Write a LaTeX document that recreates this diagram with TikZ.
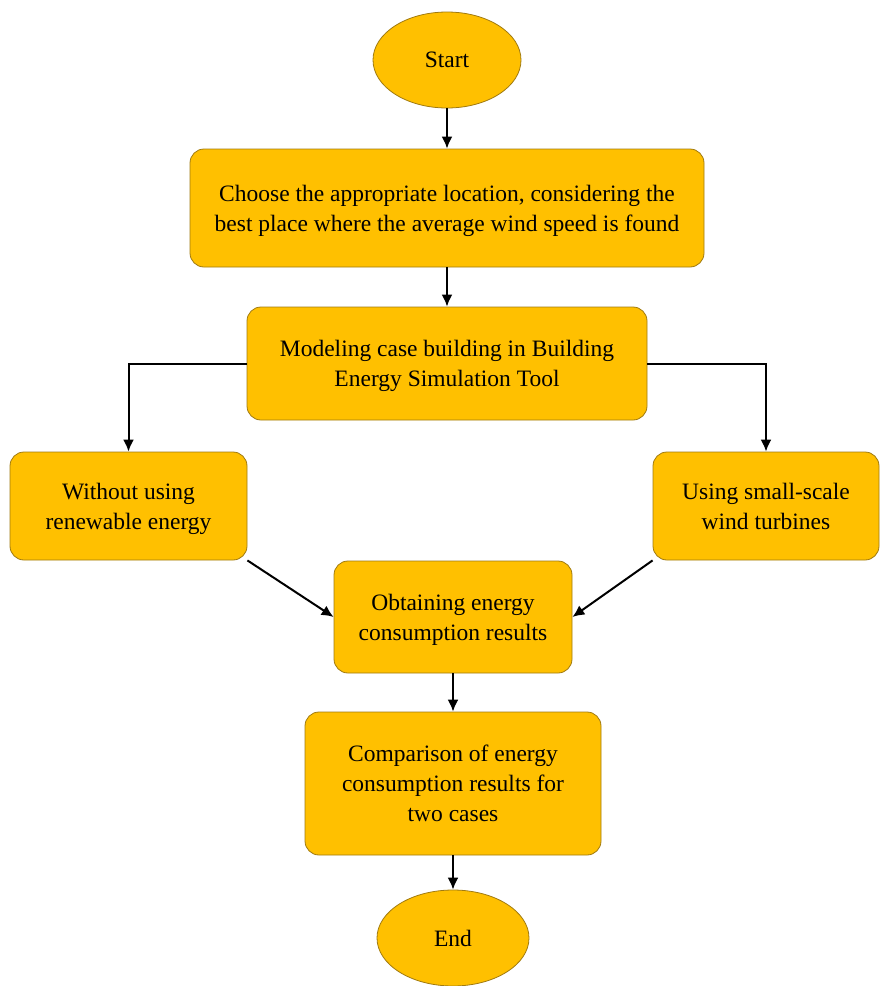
\documentclass[tikz,border=0pt]{standalone}
\usepackage{fontspec}
\setmainfont{Liberation Serif}
\usetikzlibrary{shapes.geometric,arrows.meta}

\definecolor{boxgold}{HTML}{FFC000}
\definecolor{boxedge}{HTML}{A07A10}

\tikzset{
	stepbox/.style={draw=boxedge, fill=boxgold, line width=0.8pt, rounded corners=14pt,
		align=center, inner sep=0pt, text depth=0pt, font=\fontsize{23.5}{30}\selectfont},
	terminal/.style={draw=boxedge, fill=boxgold, line width=0.8pt, ellipse, inner sep=0pt,
		font=\fontsize{23.5}{30}\selectfont},
	flow/.style={line width=2pt, -{Latex[length=12pt,width=11pt]}}
}

\begin{document}
\begin{tikzpicture}[x=1pt,y=-1pt]
		
		\useasboundingbox (0,0) rectangle (881,986);
		
		% Inicio y fin
		\node[terminal, minimum width=148pt, minimum height=96pt] (start) at (447,60) {Start};
		\node[terminal, minimum width=152pt, minimum height=96pt] (end) at (453,938) {End};
		
		% Pasos
		\node[stepbox, minimum width=514pt, minimum height=118pt] (location) at (447,208)
			{Choose the appropriate location, considering the\\best place where the average wind speed is found};
		\node[stepbox, minimum width=400pt, minimum height=113pt] (model) at (447,363.5)
			{Modeling case building in Building\\Energy Simulation Tool};
		\node[stepbox, minimum width=237pt, minimum height=108pt] (without) at (128.5,506)
			{Without using\\renewable energy};
		\node[stepbox, minimum width=226pt, minimum height=108pt] (turbine) at (766,506)
			{Using small-scale\\wind turbines};
		\node[stepbox, minimum width=238pt, minimum height=112pt] (results) at (453,617)
			{Obtaining energy\\consumption results};
		\node[stepbox, minimum width=296pt, minimum height=143pt] (compare) at (453,783.5)
			{Comparison of energy\\consumption results for\\two cases};
		
		% Flechas
		\draw[flow] (start) -- (location);
		\draw[flow] (location) -- (model);
		\draw[flow] (model.west) -| (without.north);
		\draw[flow] (model.east) -| (turbine.north);
		\draw[flow] (without.south east) -- (results.west);
		\draw[flow] (turbine.south west) -- (results.east);
		\draw[flow] (results) -- (compare);
		\draw[flow] (compare) -- (end);
		
	\end{tikzpicture}
\end{document}
